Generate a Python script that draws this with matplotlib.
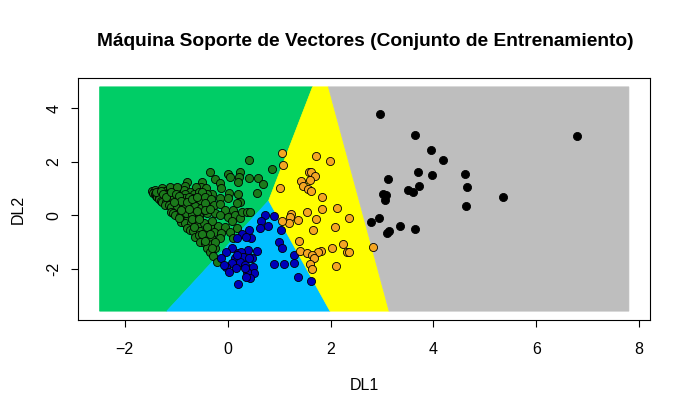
import matplotlib.pyplot as plt

plt.rcParams['font.family'] = ['Liberation Sans', 'DejaVu Sans']

# decision regions (vertices in DL1/DL2 units)
green_reg_x = [-2.49, -1.185, 0.797, 1.65, -2.49]
green_reg_y = [-3.57, -3.57, 0.552, 4.79, 4.79]
blue_reg_x = [-1.185, 1.99, 0.797]
blue_reg_y = [-3.57, -3.57, 0.552]
yellow_reg_x = [0.797, 1.99, 3.138, 1.958, 1.65]
yellow_reg_y = [0.552, -3.57, -3.57, 4.79, 4.79]
grey_reg_x = [1.958, 3.138, 7.80, 7.80]
grey_reg_y = [4.79, -3.57, -3.57, 4.79]

# training points
green_x = [0.424, 0.852, -0.353, -0.003, 0.049, 0.230, 0.223, 0.204, 0.418, 0.580, 0.696,
           -0.249, -0.146, -0.133, -0.502, -0.793, -0.826, -0.515, -0.418, -0.612, 0.016,
           0.198, 0.567, -0.308, -0.405,
           -1.473, -1.409, -1.344, -1.279, -1.214, -1.130, -1.065, -0.988, -0.923, -0.858,
           -0.729, -0.664, -0.567, -1.312, -1.182, -1.052, -0.826, -0.502, -1.454, -1.409,
           -1.363, -1.117, -0.988,
           -1.39, -1.37, -1.344, -1.247, -1.150, -1.052, -0.955, -0.858, -0.761, -0.664,
           -0.547, -0.437, -0.327, -0.146, -0.003, 0.243,
           -1.33, -1.29, -1.27, -1.195,
           -1.22, -1.15, -1.104, -0.988, -0.871, -0.742, -0.632, -0.521, -0.437, -0.275,
           -0.146, -0.049, 0.113, 0.178,
           -1.10, -1.06, -1.020, -0.923, -0.806, -0.696, -0.567, -0.405, -0.243, -0.146,
           -0.003, 0.146, 0.243, 0.275, 0.372, 0.437,
           -0.91, -0.82, -0.826, -0.716, -0.586, -0.457, -0.340, -0.191, -0.049, 0.081, 0.178,
           -0.79, -0.74, -0.677, -0.547, -0.418, -0.262, -0.126, 0.036,
           -0.63, -0.55, -0.470, -0.327, -0.159, 0.113,
           -0.54, -0.437, -0.308, -0.405, -0.243,
           -0.340, -0.28, -0.21,
           -1.40, -1.30, -1.25, -1.20, -1.10, -1.00, -0.95, -0.90, -1.05, -0.80, -0.70, -0.60,
           -0.90, -0.75, -0.60, -0.45, -0.35, -0.95, -0.70, -0.55, -0.30, -0.65, -0.40, -0.50,
           -0.35, -0.45, -0.25, -0.30]
green_y = [2.064, 1.715, 1.616, 1.541, 1.442, 1.628, 1.417, 1.230, 1.379, 1.379, 1.155,
           1.342, 1.193, 1.031, 1.255, 1.255, 1.106, 1.044, 1.031, 1.044, 0.845,
           0.782, 0.820, 0.782, 0.782,
           0.907, 0.944, 0.882, 1.006, 0.907, 1.006, 0.882, 0.944, 0.820, 0.944,
           0.882, 0.782, 0.857, 0.782, 0.782, 0.782, 0.782, 0.882, 0.820, 0.782,
           0.820, 1.068, 1.068,
           0.720, 0.695, 0.658, 0.695, 0.633, 0.695, 0.633, 0.658, 0.695, 0.633,
           0.571, 0.695, 0.608, 0.633, 0.658, 0.509,
           0.608, 0.534, 0.509, 0.484,
           0.384, 0.384, 0.322, 0.359, 0.384, 0.409, 0.359, 0.260, 0.447, 0.384,
           0.409, 0.198, 0.198, 0.447,
           0.136, 0.090, 0.011, -0.014, 0.073, 0.036, -0.014, 0.073, 0.073, 0.011,
           -0.051, 0.011, -0.088, 0.136, 0.136, 0.136,
           -0.238, -0.200, -0.300, -0.300, -0.337, -0.300, -0.387, -0.387, -0.424, -0.213, -0.486,
           -0.486, -0.549, -0.586, -0.586, -0.586, -0.611, -0.673, -0.611,
           -0.797, -0.750, -0.859, -0.835, -0.859, -0.859,
           -0.984, -1.046, -1.083, -1.233, -1.233,
           -1.357, -1.506, -1.750,
           0.86, 0.90, 0.80, 0.70, 0.88, 0.80, 0.72, 0.55, 0.50, 0.50, 0.60, 0.70,
           0.20, 0.22, 0.15, 0.20, 0.25, -0.10, -0.15, -0.15, -0.20, -0.45, -0.45, -0.70,
           -0.70, -0.95, -0.98, -1.20]

blue_x = [0.716, 0.891, 0.644, 0.774, 0.619, 1.040, 0.405, 0.275, 0.457, 0.353, 0.185,
          0.081, 1.001, 1.065, 0.567, 0.392, -0.036, 0.198, 0.262, 0.295, 0.133, 0.470,
          -0.126, 0.230, 0.081, 0.340, -0.036, 0.159, 0.489, 0.016, 1.286, 0.897,
          1.104, 1.286, 0.521, 0.372, 0.437, 0.353, 1.376, 0.210, 1.622,
          0.178, 0.405, 0.327, -0.062]
blue_y = [0.011, -0.014, -0.213, -0.412, -0.486, -0.548, -0.548, -0.710, -0.859, -0.797, -0.859,
          -1.208, -1.009, -1.208, -1.319, -1.295, -1.357, -1.419, -1.357, -1.544, -1.581, -1.606,
          -1.606, -1.730, -1.792, -1.854, -1.916, -1.954, -1.916, -2.103, -1.481, -1.830,
          -1.830, -1.792, -2.141, -2.103, -2.327, -2.290, -2.302, -2.576, -2.451,
          -1.481, -1.606, -1.978, -1.854]

orange_x = [1.065, 1.085, 1.020, 1.234, 1.214, 1.201, 1.052, 1.376, 1.389, 1.409,
            1.726, 1.998, 1.577, 1.629, 1.694, 1.603, 1.422, 1.460, 1.558, 1.622,
            1.843, 1.836, 2.134, 1.551, 1.713, 2.367, 2.095, 1.668, 2.251, 2.024,
            1.817, 1.758, 2.328, 2.354, 1.538, 1.648, 1.681, 1.603, 2.108, 1.635, 2.834]
orange_y = [2.325, 1.864, 1.019, 0.061, -0.051, -0.300, -0.200, -0.175, -0.971, -1.345,
            2.200, 2.014, 1.616, 1.628, 1.454, 1.317, 1.280, 1.093, 0.981, 0.907,
            0.670, 0.223, 0.272, 0.111, -0.138, -0.101, -0.424, -0.561, -1.071, -1.208,
            -1.320, -1.369, -1.357, -1.382, -1.419, -1.481, -1.581, -1.817, -1.879, -2.016, -1.183]

black_x = [2.970, 3.650, 3.961, 4.194, 6.791, 3.708, 3.980, 4.621, 3.125, 3.727, 4.660, 3.507,
           3.611, 3.028, 3.086, 3.067, 5.359, 4.641, 2.795, 2.950, 3.358, 3.650, 3.144, 3.106]
black_y = [3.767, 2.984, 2.424, 2.051, 2.947, 1.603, 1.491, 1.529, 1.342, 1.081, 1.044, 0.944,
           0.857, 0.782, 0.757, 0.558, 0.670, 0.335, -0.262, -0.101, -0.412, -0.524, -0.573, -0.673]

fig = plt.figure(figsize=(6.9, 4.18), dpi=100)
ax = fig.add_axes([78 / 690, 98 / 418, 572 / 690, 242 / 418])

ax.fill(green_reg_x, green_reg_y, color='#00CD66', lw=0.5)
ax.fill(blue_reg_x, blue_reg_y, color='#00BFFF', lw=0.5)
ax.fill(yellow_reg_x, yellow_reg_y, color='#FFFF00', lw=0.5)
ax.fill(grey_reg_x, grey_reg_y, color='#BEBEBE', lw=0.5)

pt = dict(s=34, edgecolors='black', linewidths=0.6, zorder=3)
ax.scatter(green_x, green_y, c='#1B7A1B', **pt)
ax.scatter(blue_x, blue_y, c='#0000B8', **pt)
ax.scatter(orange_x, orange_y, c='#F5A623', **pt)
ax.scatter(black_x, black_y, c='black', **pt)

ax.set_xlim(-2.91, 8.21)
ax.set_ylim(-3.9, 5.12)
ax.set_xticks([-2, 0, 2, 4, 6, 8])
ax.set_yticks([-2, 0, 2, 4])
ax.set_yticklabels(['-2', '0', '2', '4'], rotation=90, va='center')
ax.tick_params(length=5, width=0.8, labelsize=11.5, color='black')
ax.tick_params(axis='x', pad=11)
ax.tick_params(axis='y', pad=7)
for s in ax.spines.values():
    s.set_linewidth(0.8)

fig.text(365 / 690, 1 - 42 / 418, 'Máquina Soporte de Vectores (Conjunto de Entrenamiento)',
         ha='center', va='center', fontsize=13.8, fontweight='bold')
fig.text(364 / 690, 1 - 385 / 418, 'DL1', ha='center', va='center', fontsize=11.5)
fig.text(18 / 690, 1 - 209 / 418, 'DL2', ha='center', va='center', fontsize=11.5, rotation=90)

fig.savefig('out.png', dpi=100)
